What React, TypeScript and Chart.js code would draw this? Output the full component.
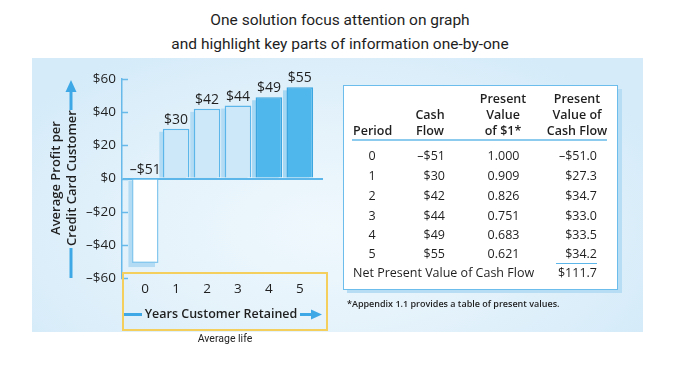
import React, { useEffect, useRef } from "react";
import { Chart, registerables } from "chart.js";

Chart.register(...registerables);

// ---------- data ----------
const years = [0, 1, 2, 3, 4, 5];
const profits = [-51, 30, 42, 44, 49, 55];
const pvFactors = ["1.000", "0.909", "0.826", "0.751", "0.683", "0.621"];
const pvCashFlows = [-51.0, 27.3, 34.7, 33.0, 33.5, 34.2];
const npvTotal = 111.7;
const titleLines = [
  "One solution focus attention on graph",
  "and highlight key parts of information one-by-one",
];

// ---------- styles ----------
const FONT = "'Open Sans', sans-serif";
const TXT = "#1f1f1f";
const barFill = ["#ffffff", "#cde8f8", "#cde8f8", "#cde8f8", "#50b7ec", "#50b7ec"];
const barBorder = ["#86c8ee", "#5db6e9", "#5db6e9", "#5db6e9", "#3ba6e0", "#3ba6e0"];
const shadowCol = ["#b3dcf4", "#b3dcf4", "#b3dcf4", "#b3dcf4", "#a6d7f3", "#a6d7f3"];
const AXIS = "#67b9ea";

const money = (v: number, d = 0) =>
  (v < 0 ? "\u2013" : "") + "$" + Math.abs(v).toFixed(d);

const decor = {
  id: "decor",
  beforeDatasetsDraw(chart: any) {
    const ctx = chart.ctx;
    const meta = chart.getDatasetMeta(0);
    ctx.save();
    meta.data.forEach((bar: any, i: number) => {
      const { x, y, base, width } = bar.getProps(["x", "y", "base", "width"], true);
      ctx.fillStyle = shadowCol[i];
      const left = x - width / 2 - 3.5;
      if (y < base) ctx.fillRect(left, y + 3, width, base - y - 3);
      else ctx.fillRect(left, base + 1, width, y - base + 3);
    });
    ctx.restore();
  },
  afterDatasetsDraw(chart: any) {
    const ctx = chart.ctx;
    const meta = chart.getDatasetMeta(0);
    ctx.save();
    ctx.font = `14px ${FONT}`;
    ctx.fillStyle = TXT;
    ctx.textAlign = "center";
    ctx.textBaseline = "alphabetic";
    meta.data.forEach((bar: any, i: number) => {
      const { x, y, base } = bar.getProps(["x", "y", "base"], true);
      const v = profits[i];
      const ty = v >= 0 ? y - 5 : base - 6;
      ctx.fillText(money(v), x, ty);
    });
    // inward tick marks on y axis
    const ys = chart.scales.y;
    ctx.strokeStyle = AXIS;
    ctx.lineWidth = 1.5;
    ys.ticks.forEach((t: any) => {
      const py = Math.round(ys.getPixelForValue(t.value)) + 0.5;
      ctx.beginPath();
      ctx.moveTo(ys.right - 1, py);
      ctx.lineTo(ys.right + 6, py);
      ctx.stroke();
    });
    ctx.restore();
  },
};

function BarChart() {
  const ref = useRef<HTMLCanvasElement>(null);
  useEffect(() => {
    if (!ref.current) return;
    const chart = new Chart(ref.current, {
      type: "bar",
      data: {
        datasets: [
          {
            data: years.map((yr, i) => ({ x: yr, y: profits[i] })),
            backgroundColor: barFill,
            borderColor: barBorder,
            borderWidth: 1.5,
            categoryPercentage: 1,
            barPercentage: 0.86,
          },
        ],
      },
      options: {
        animation: false,
        responsive: false,
        devicePixelRatio: 1,
        layout: { padding: { top: 19, right: 17, left: 0, bottom: 0 } },
        plugins: { legend: { display: false }, tooltip: { enabled: false } },
        scales: {
          x: {
            type: "linear",
            offset: false,
            min: -0.75,
            max: 5.75,
            afterBuildTicks: (s: any) => {
              s.ticks = years.map((v) => ({ value: v }));
            },
            afterFit: (s: any) => {
              s.height = 22;
            },
            grid: { display: false, drawTicks: false, offset: false },
            border: { display: false },
            ticks: {
              padding: 3,
              color: TXT,
              font: { family: FONT, size: 13.5 },
              callback: (v: any) => String(v),
            },
          },
          y: {
            min: -60,
            max: 60,
            afterFit: (s: any) => {
              s.width = 42;
            },
            ticks: {
              stepSize: 20,
              padding: 6,
              color: TXT,
              font: { family: FONT, size: 13.5 },
              callback: (v: any) => money(Number(v)),
            },
            grid: {
              drawTicks: false,
              color: (c: any) => (c.tick && c.tick.value === 0 ? "#5db6e9" : "rgba(0,0,0,0)"),
              lineWidth: (c: any) => (c.tick && c.tick.value === 0 ? 2 : 0),
            },
            border: { display: true, color: AXIS, width: 1.5 },
          },
        },
      },
      plugins: [decor],
    } as any);
    return () => chart.destroy();
  }, []);
  return (
    <canvas
      ref={ref}
      width={260}
      height={240}
      style={{ position: "absolute", left: 80, top: 60, width: 260, height: 240 }}
    />
  );
}

function T(props: {
  x: number;
  y: number;
  align?: "left" | "center" | "right";
  size?: number;
  weight?: number;
  family?: string;
  color?: string;
  children: React.ReactNode;
}) {
  const { x, y, align = "left", size = 12.5, weight = 400, family = FONT, color = TXT } = props;
  const tx = align === "left" ? "0" : align === "center" ? "-50%" : "-100%";
  return (
    <div
      style={{
        position: "absolute",
        left: x,
        top: y,
        transform: `translate(${tx}, -50%)`,
        whiteSpace: "nowrap",
        lineHeight: 1,
        fontFamily: family,
        fontSize: size,
        fontWeight: weight,
        color,
      }}
    >
      {props.children}
    </div>
  );
}

export default function App() {
  const rowY = [156, 176, 195.5, 215.5, 234.5, 253.5];
  return (
    <div
      style={{
        position: "absolute",
        left: 0,
        top: 0,
        width: 680,
        height: 383,
        background: "#ffffff",
        overflow: "hidden",
      }}
    >
      {/* title */}
      <T x={340} y={21} align="center" size={15.5} family="Roboto" color="#1e1e1e">
        {titleLines[0]}
      </T>
      <T x={340} y={45} align="center" size={15.5} family="Roboto" color="#1e1e1e">
        {titleLines[1]}
      </T>

      {/* panel */}
      <div
        style={{
          position: "absolute",
          left: 32,
          top: 58,
          width: 611,
          height: 274,
          background:
            "radial-gradient(ellipse 60% 75% at 48% 62%, #eff8fd 0%, #e6f3fb 45%, #d5ebf9 100%)",
        }}
      />

      <BarChart />

      {/* yellow highlight box */}
      <div
        style={{
          position: "absolute",
          left: 122,
          top: 272,
          width: 206,
          height: 59,
          border: "2px solid #f4cf5e",
          boxSizing: "border-box",
        }}
      />

      {/* arrows */}
      <svg
        width={680}
        height={383}
        style={{ position: "absolute", left: 0, top: 0, pointerEvents: "none" }}
      >
        <line x1={71} y1={90} x2={71} y2={110} stroke="#3ea8e6" strokeWidth={3} />
        <polygon points="71,80 65.5,92 76.5,92" fill="#3ea8e6" />
        <line x1={71} y1={248} x2={71} y2={278} stroke="#3ea8e6" strokeWidth={3} />
        <line x1={124} y1={314.5} x2={142} y2={314.5} stroke="#3ea8e6" strokeWidth={3} />
        <line x1={300} y1={314.5} x2={313} y2={314.5} stroke="#3ea8e6" strokeWidth={3} />
        <polygon points="322,314.5 311,309.5 311,319.5" fill="#3ea8e6" />
      </svg>

      {/* y axis title */}
      {[
        { t: "Average Profit per", x: 55 },
        { t: "Credit Card Customer", x: 70.5 },
      ].map((l) => (
        <div
          key={l.t}
          style={{
            position: "absolute",
            left: l.x,
            top: 178,
            transform: "translate(-50%, -50%) rotate(-90deg)",
            whiteSpace: "nowrap",
            lineHeight: 1,
            fontFamily: FONT,
            fontSize: 13,
            fontWeight: 600,
            color: TXT,
          }}
        >
          {l.t}
        </div>
      ))}

      {/* x axis title */}
      <T x={221} y={314} align="center" size={12.5} weight={600} color={TXT}>
        Years Customer Retained
      </T>
      <T x={225} y={339} align="center" size={10.5} family="Roboto" color="#222">
        Average life
      </T>

      {/* table */}
      <div
        style={{
          position: "absolute",
          left: 347,
          top: 89,
          width: 275,
          height: 204,
          background: "#b6ddf4",
        }}
      />
      <div
        style={{
          position: "absolute",
          left: 343,
          top: 85,
          width: 275,
          height: 205,
          background: "#ffffff",
          border: "1.5px solid #6cbcec",
          boxSizing: "border-box",
        }}
      />
      <T x={353} y={131} weight={600}>Period</T>
      <T x={430} y={115} align="center" weight={600}>Cash</T>
      <T x={430} y={131} align="center" weight={600}>Flow</T>
      <T x={503} y={99} align="center" weight={600}>Present</T>
      <T x={503} y={115} align="center" weight={600}>Value</T>
      <T x={503} y={131} align="center" weight={600}>of $1*</T>
      <T x={577} y={99} align="center" weight={600}>Present</T>
      <T x={577} y={115} align="center" weight={600}>Value of</T>
      <T x={577} y={131} align="center" weight={600}>Cash Flow</T>
      <div
        style={{
          position: "absolute",
          left: 352,
          top: 139,
          width: 255,
          height: 2,
          background: "#8ccbee",
        }}
      />
      {years.map((yr, i) => (
        <React.Fragment key={yr}>
          <T x={372} y={rowY[i]} align="center">{String(yr)}</T>
          <T x={445} y={rowY[i]} align="right">{money(profits[i])}</T>
          <T x={503.5} y={rowY[i]} align="center">{pvFactors[i]}</T>
          <T x={597} y={rowY[i]} align="right">{money(pvCashFlows[i], 1)}</T>
        </React.Fragment>
      ))}
      <div
        style={{
          position: "absolute",
          left: 556,
          top: 262.5,
          width: 41,
          height: 1.5,
          background: "#5db6e9",
        }}
      />
      <T x={353} y={273}>Net Present Value of Cash Flow</T>
      <T x={597} y={273} align="right">{money(npvTotal, 1)}</T>
      <T x={347} y={303} size={9} weight={600}>
        *Appendix 1.1 provides a table of present values.
      </T>
    </div>
  );
}
